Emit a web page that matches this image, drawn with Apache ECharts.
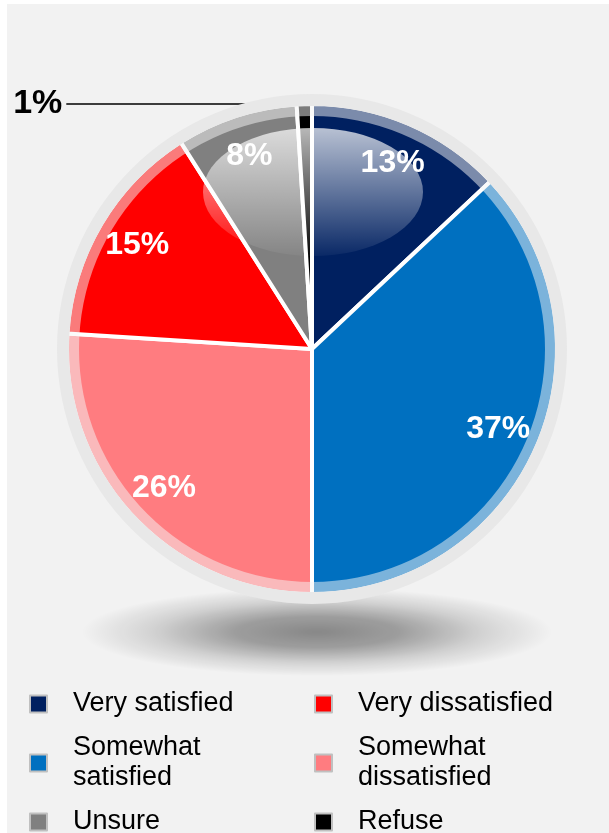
<!DOCTYPE html>
<html><head><meta charset="utf-8">
<script src="https://cdn.jsdelivr.net/npm/echarts@6/dist/echarts.min.js"></script>
<style>
html,body{margin:0;padding:0;background:#fff;width:609px;height:833px;overflow:hidden}
#chart{position:absolute;left:7px;top:4px;width:602px;height:829px;background:#f2f2f2}
</style></head><body><div id="chart"></div>
<script>
const categories = ['Very satisfied','Somewhat satisfied','Somewhat dissatisfied','Very dissatisfied','Unsure','Refuse'];
const shares = [13,37,26,15,8,1];
const sliceColors = ['#002060','#0070c0','#ff7c80','#ff0000','#808080','#000000'];
const legendLeftNames = ['Very satisfied','Somewhat satisfied','Unsure'];
const legendRightNames = ['Very dissatisfied','Somewhat dissatisfied','Refuse'];
const legendLabels = {'Somewhat satisfied':'Somewhat\nsatisfied','Somewhat dissatisfied':'Somewhat\ndissatisfied'};

const CX = 305, CY = 345, R = 243;
const FONT = "'Liberation Sans', Arial, sans-serif";
const total = shares.reduce((a,b)=>a+b,0);
const small = v => v < 3;

const mainData = categories.map((n,i)=>({
  name:n, value:shares[i],
  label: small(shares[i]) ? {show:true} : {show:false},
  labelLine: {show: small(shares[i])}
}));
const labelData = categories.map((n,i)=>({
  name:n, value:shares[i],
  label: {show: !small(shares[i])}
}));

const chart = echarts.init(document.getElementById('chart'), null, {renderer:'canvas'});
const legendCommon = {
  orient:'vertical', top:685, height:220, padding:0, itemGap:14,
  itemWidth:17, itemHeight:17, icon:'rect',
  itemStyle:{borderColor:'#c0c0c0', borderWidth:2},
  textStyle:{color:'#000', fontSize:27, fontFamily:FONT, lineHeight:30, padding:[0,0,0,21]},
  formatter: name => legendLabels[name] || name,
  selectedMode:false
};
chart.setOption({
  animation:false,
  backgroundColor:'transparent',
  legend:[
    Object.assign({left:22, data:legendLeftNames}, legendCommon),
    Object.assign({left:307, data:legendRightNames}, legendCommon)
  ],
  graphic:[
    {type:'circle', silent:true, z:1, x:CX+5, y:628, scaleY:44/235,
     shape:{cx:0, cy:0, r:235},
     style:{fill:{type:'radial', x:0.5, y:0.5, r:0.5, colorStops:[
       {offset:0, color:'rgba(0,0,0,0.44)'},
       {offset:0.35, color:'rgba(0,0,0,0.35)'},
       {offset:0.7, color:'rgba(0,0,0,0.13)'},
       {offset:1, color:'rgba(0,0,0,0)'}]}}},
    {type:'circle', silent:true, z:5, x:CX+1, y:188, scaleY:64/110,
     shape:{cx:0, cy:0, r:110},
     style:{fill:{type:'linear', x:0, y:0, x2:0, y2:1, colorStops:[
       {offset:0, color:'rgba(255,255,255,0.72)'},
       {offset:0.5, color:'rgba(255,255,255,0.38)'},
       {offset:1, color:'rgba(255,255,255,0.04)'}]}}}
  ],
  series:[
    {
      type:'pie', z:2, center:[CX,CY], radius:[0,R+2], startAngle:90, clockwise:true,
      avoidLabelOverlap:false, silent:true, emphasis:{disabled:true},
      color:sliceColors,
      itemStyle:{borderColor:'#fff', borderWidth:4},
      label:{position:'outside', formatter:'{c}%', color:'#000', fontSize:34, fontWeight:'bold', fontFamily:FONT, distanceToLabelLine:4},
      labelLine:{length:0, length2:238, lineStyle:{color:'#000', width:1.5}},
      data:mainData
    },
    {
      type:'pie', z:3, center:[CX,CY], radius:[R,R+12], silent:true, emphasis:{disabled:true},
      label:{show:false}, labelLine:{show:false},
      itemStyle:{color:'#e8e8e8'},
      data:[{name:'ring', value:total}]
    },
    {
      type:'pie', z:4, center:[CX,CY], radius:[R-10,R], silent:true, emphasis:{disabled:true},
      label:{show:false}, labelLine:{show:false},
      itemStyle:{color:'rgba(245,245,245,0.5)'},
      data:[{name:'rim', value:total}]
    },
    {
      type:'pie', z:6, center:[CX,CY], radius:[R-76,R-10], startAngle:90, clockwise:true,
      avoidLabelOverlap:false, silent:true, emphasis:{disabled:true},
      itemStyle:{color:'rgba(0,0,0,0)', borderWidth:0},
      label:{position:'inside', formatter:'{c}%', color:'#fff', fontSize:32, fontWeight:'bold', fontFamily:FONT},
      labelLine:{show:false},
      data:labelData
    }
  ]
});
</script></body></html>
